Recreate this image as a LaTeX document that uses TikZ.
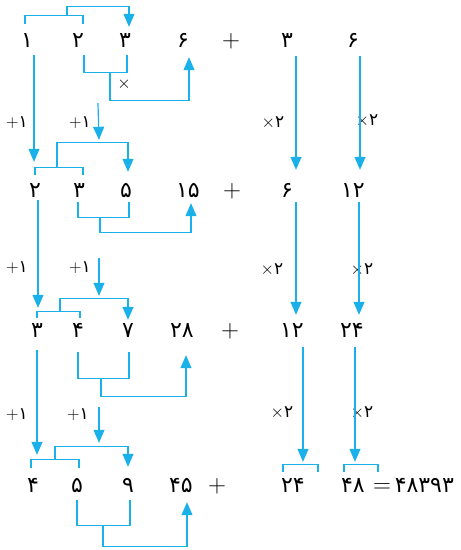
\documentclass[tikz,border=0pt]{standalone}
\usepackage{fontspec}
\newfontfamily\persianfont{DejaVu Sans}
\usetikzlibrary{arrows.meta}
\definecolor{flow-cyan}{HTML}{1AB0EA}

\begin{document}
\begin{tikzpicture}[x=1pt, y=-1pt,
    num/.style={font=\persianfont\fontsize{22}{24}\selectfont, inner sep=0pt,
                text height=15pt, text depth=1pt},
    sign/.style={font=\fontsize{30}{32}\selectfont, inner sep=0pt},
    oplabel/.style={font=\fontsize{17}{18}\selectfont, inner sep=0pt},
    link/.style={draw=flow-cyan, line width=1.2pt},
    arr/.style={link, -{Triangle[width=11pt, length=13pt]}}]
  \useasboundingbox (0,0) rectangle (461,550);

  % row 1
  \node[num] (A1) at (27,40) {۱};
  \node[num] (B1) at (78,40) {۲};
  \node[num] (C1) at (125,40) {۳};
  \node[num] (S1) at (183,40) {۶};
  \node[sign] (P1) at (231,41) {$+$};
  \node[num] (U1) at (287,40) {۳};
  \node[num] (V1) at (353,40) {۶};
  \draw[link] ([xshift=-2pt,yshift=8pt]A1.north) -- ++(0,-8) -| ([xshift=5pt,yshift=8pt]B1.north);
  \draw[arr] ([xshift=-11pt,yshift=16pt]B1.north) -- ++(0,-9) -| ([xshift=4pt,yshift=5pt]C1.north);
  \draw[link] ([xshift=6pt,yshift=-7pt]B1.south) -- ++(0,17) -| ([xshift=2pt,yshift=-7pt]C1.south);
  \draw[arr] ([xshift=32pt,yshift=-24pt]B1.south) -- ++(0,28) -| ([xshift=6pt,yshift=-9pt]S1.south);
  \node[oplabel] (X1) at (124,84) {$\times$};

  % row 1 -> row 2
  \node[oplabel] (I1) at (17,123) {$+$\persianfont ۱};
  \node[oplabel] (J1) at (80,123) {$+$\persianfont ۱};
  \node[oplabel] (K1) at (273,123) {$\times$\persianfont ۲};
  \node[oplabel] (L1) at (367,121) {$\times$\persianfont ۲};

  % row 2
  \node[num] (A2) at (35,190) {۲};
  \node[num] (B2) at (79,190) {۳};
  \node[num] (C2) at (126,190) {۵};
  \node[num] (S2) at (188,190) {۱۵};
  \node[sign] (P2) at (232,191) {$+$};
  \node[num] (U2) at (287,190) {۶};
  \node[num] (V2) at (353,190) {۱۲};
  \draw[arr] ([xshift=7pt,yshift=-7pt]A1.south) -- ([xshift=-1pt,yshift=20pt]A2.north);
  \draw[arr] ([xshift=20pt,yshift=-55pt]B1.south) -- ([xshift=20pt,yshift=42pt]B2.north);
  \draw[arr] ([xshift=9pt,yshift=-8pt]U1.south) -- ([xshift=9pt,yshift=12pt]U2.north);
  \draw[arr] ([xshift=7pt,yshift=-8pt]V1.south) -- ([xshift=7pt,yshift=12pt]V2.north);
  \draw[link] (A2.north) ++(0,-7) -- ++(0,-7) -| ([xshift=4pt,yshift=7pt]B2.north);
  \draw[arr] ([xshift=-22pt,yshift=14pt]B2.north) -- ++(0,-25) -| ([xshift=2pt,yshift=10pt]C2.north);
  \draw[link] ([xshift=-1pt,yshift=-4pt]B2.south) -- ++(0,15) -| ([xshift=3pt,yshift=-4pt]C2.south);
  \draw[arr] ([xshift=21pt,yshift=-19pt]B2.south) -- ++(0,15) -| ([xshift=3pt,yshift=-5pt]S2.south);

  % row 2 -> row 3
  \node[oplabel] (I2) at (17,268) {$+$\persianfont ۱};
  \node[oplabel] (J2) at (80,268) {$+$\persianfont ۱};
  \node[oplabel] (K2) at (272,270) {$\times$\persianfont ۲};
  \node[oplabel] (L2) at (362,270) {$\times$\persianfont ۲};

  % row 3
  \node[num] (A3) at (37,330) {۳};
  \node[num] (B3) at (78,330) {۴};
  \node[num] (C3) at (128,330) {۷};
  \node[num] (S3) at (182,330) {۲۸};
  \node[sign] (P3) at (230,331) {$+$};
  \node[num] (U3) at (292,330) {۱۲};
  \node[num] (V3) at (352,330) {۲۴};
  \draw[arr] ([xshift=3pt,yshift=-2pt]A2.south) -- ([xshift=1pt,yshift=14pt]A3.north);
  \draw[arr] ([xshift=20pt,yshift=-60pt]B2.south) -- ([xshift=21pt,yshift=26pt]B3.north);
  \draw[arr] ([xshift=9pt,yshift=-4pt]U2.south) -- ([xshift=4pt,yshift=7pt]U3.north);
  \draw[arr] ([xshift=6pt,yshift=-4pt]V2.south) -- ([xshift=7pt,yshift=7pt]V3.north);
  \draw[link] (A3.north) ++(0,-4) -- ++(0,-6) -| ([xshift=2pt,yshift=4pt]B3.north);
  \draw[arr] ([xshift=-18pt,yshift=10pt]B3.north) -- ++(0,-13) -| ([yshift=2pt]C3.north);
  \draw[link] ([yshift=-14pt]B3.south) -- ++(0,26) -| ([xshift=1pt,yshift=-14pt]C3.south);
  \draw[arr] ([xshift=23pt,yshift=-40pt]B3.south) -- ++(0,18) -| ([xshift=4pt,yshift=-17pt]S3.south);

  % row 3 -> row 4
  \node[oplabel] (I3) at (17,415) {$+$\persianfont ۱};
  \node[oplabel] (J3) at (78,415) {$+$\persianfont ۱};
  \node[oplabel] (K3) at (282,413) {$\times$\persianfont ۲};
  \node[oplabel] (L3) at (362,413) {$\times$\persianfont ۲};

  % row 4
  \node[num] (A4) at (33,485) {۴};
  \node[num] (B4) at (77,485) {۵};
  \node[num] (C4) at (128,485) {۹};
  \node[num] (S4) at (181,485) {۴۵};
  \node[sign] (P4) at (217,486) {$+$};
  \node[num] (U4) at (293,485) {۲۴};
  \node[num] (V4) at (353,485) {۴۸};
  \node[num, anchor=west] (R4) at ([xshift=8pt]V4.east) {{\fontsize{27}{28}\selectfont$=$}\,۴۸۳۹۳};
  \draw[arr] ([yshift=-12pt]A3.south) -- ([xshift=4pt,yshift=22pt]A4.north);
  \draw[arr] ([xshift=21pt,yshift=-69pt]B3.south) -- ([xshift=22pt,yshift=34pt]B4.north);
  \draw[arr] ([xshift=11pt,yshift=-9pt]U3.south) -- ([xshift=10pt,yshift=15pt]U4.north);
  \draw[arr] ([xshift=3pt,yshift=-9pt]V3.south) -- ([xshift=2pt,yshift=15pt]V4.north);
  \draw[link] ([xshift=-2pt,yshift=9pt]A4.north) -- ++(0,-8) -| ([xshift=2pt,yshift=9pt]B4.north);
  \draw[arr] ([xshift=-22pt,yshift=17pt]B4.north) -- ++(0,-13) -| ([yshift=10pt]C4.north);
  \draw[link] ([yshift=-7pt]B4.south) -- ++(0,25) -| ([xshift=2pt,yshift=-7pt]C4.south);
  \draw[arr] ([xshift=26pt,yshift=-32pt]B4.south) -- ++(0,21) -| ([xshift=6pt,yshift=-9pt]S4.south);
  \draw[link] ([xshift=-10pt,yshift=5pt]U4.north) -- ++(0,-7) -| ([xshift=25pt,yshift=5pt]U4.north);
  \draw[link] ([xshift=-9pt,yshift=5pt]V4.north) -- ++(0,-7) -| ([xshift=25pt,yshift=5pt]V4.north);
\end{tikzpicture}
\end{document}
